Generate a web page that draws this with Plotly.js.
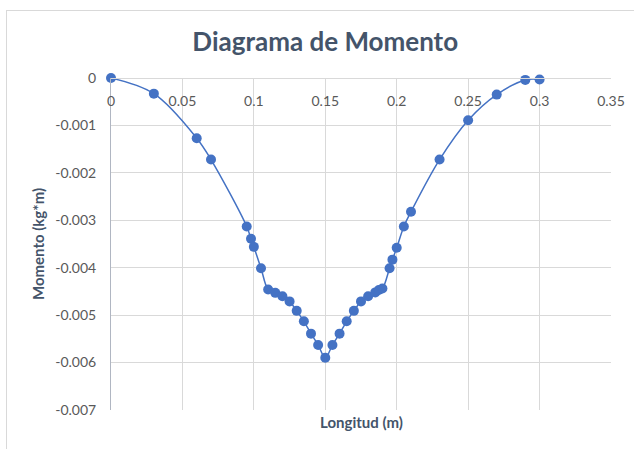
<!DOCTYPE html>
<html>
<head>
<meta charset="utf-8">
<script src="https://cdn.plot.ly/plotly-3.0.1.min.js"></script>
<style>
  html, body { margin: 0; padding: 0; background: #ffffff; }
  #wrap { position: relative; width: 634px; height: 449px; overflow: hidden; }
  #frame { position: absolute; left: 6px; top: 10px; width: 700px; height: 600px; border: 1px solid #d9d9d9; box-sizing: border-box; }
  #chart { position: absolute; left: 0; top: 0; width: 634px; height: 449px; }
</style>
</head>
<body>
<div id="wrap">
  <div id="frame"></div>
  <div id="chart"></div>
</div>
<script>
// Longitud (m)
const longitud = [0, 0.03, 0.06, 0.07, 0.095, 0.098, 0.1, 0.105, 0.11, 0.115, 0.12, 0.125, 0.13, 0.135, 0.14, 0.145, 0.15,
  0.155, 0.16, 0.165, 0.17, 0.175, 0.18, 0.185, 0.1875, 0.19, 0.195, 0.197, 0.2, 0.205, 0.21, 0.23, 0.25, 0.27, 0.29, 0.3];
// Momento (kg*m)
const momento = [0, -0.00033, -0.00127, -0.00172, -0.00313, -0.00339, -0.00356, -0.00401, -0.00446, -0.00453, -0.0046, -0.00471,
  -0.00491, -0.00513, -0.00539, -0.00563, -0.0059, -0.00563, -0.00539, -0.00513, -0.00491, -0.00471, -0.0046, -0.00452,
  -0.00447, -0.00444, -0.00401, -0.00383, -0.00358, -0.00313, -0.00282, -0.00172, -0.00089, -0.00035, -0.00004, -0.00003];
const xTicks = [0, 0.05, 0.1, 0.15, 0.2, 0.25, 0.3, 0.35];
const xTickText = ['0', '0.05', '0.1', '0.15', '0.2', '0.25', '0.3', '0.35'];
const yTicks = [0, -0.001, -0.002, -0.003, -0.004, -0.005, -0.006, -0.007];
const yTickText = ['0', '-0.001', '-0.002', '-0.003', '-0.004', '-0.005', '-0.006', '-0.007'];

const FONT = 'Lato, "Open Sans", sans-serif';

const trace = {
  x: longitud,
  y: momento,
  type: 'scatter',
  mode: 'lines+markers',
  line: { color: '#4472c4', width: 1.5, shape: 'spline', smoothing: 1 },
  marker: { color: '#4472c4', size: 10 },
  cliponaxis: false,
  hoverinfo: 'x+y'
};

const layout = {
  width: 634,
  height: 449,
  margin: { l: 111, r: 23, t: 78, b: 39 },
  paper_bgcolor: 'rgba(0,0,0,0)',
  plot_bgcolor: 'rgba(0,0,0,0)',
  showlegend: false,
  font: { family: FONT, color: '#595959', size: 14 },
  title: {
    text: '<b>Diagrama de Momento</b>',
    font: { family: FONT, size: 26, color: '#44546a' },
    x: 0.513, xanchor: 'center',
    y: 0.907, yanchor: 'middle'
  },
  xaxis: {
    range: [0, 0.35],
    tickvals: xTicks,
    ticktext: xTickText,
    anchor: 'free',
    position: 1,
    side: 'bottom',
    showgrid: true,
    gridcolor: '#d9d9d9',
    gridwidth: 1,
    showline: true,
    linecolor: '#d9d9d9',
    linewidth: 1,
    zeroline: false,
    ticks: '',
    ticklabelstandoff: 10,
    tickfont: { family: FONT, size: 14, color: '#595959' }
  },
  yaxis: {
    range: [-0.007, 0],
    tickvals: yTicks,
    ticktext: yTickText,
    showgrid: true,
    gridcolor: '#d9d9d9',
    gridwidth: 1,
    showline: true,
    linecolor: '#b0b6c2',
    linewidth: 1,
    zeroline: false,
    ticks: '',
    ticklabelstandoff: 11,
    tickfont: { family: FONT, size: 14, color: '#595959' },
    title: {
      text: '<b>Momento (kg*m)</b>',
      font: { family: FONT, size: 15, color: '#44546a' },
      standoff: 6
    }
  },
  annotations: [{
    text: '<b>Longitud (m)</b>',
    xref: 'paper', yref: 'paper',
    x: 0.5, y: -0.037,
    xanchor: 'center', yanchor: 'middle',
    showarrow: false,
    font: { family: FONT, size: 15, color: '#44546a' }
  }]
};

Plotly.newPlot('chart', [trace], layout, { displayModeBar: false, responsive: false });
</script>
</body>
</html>
